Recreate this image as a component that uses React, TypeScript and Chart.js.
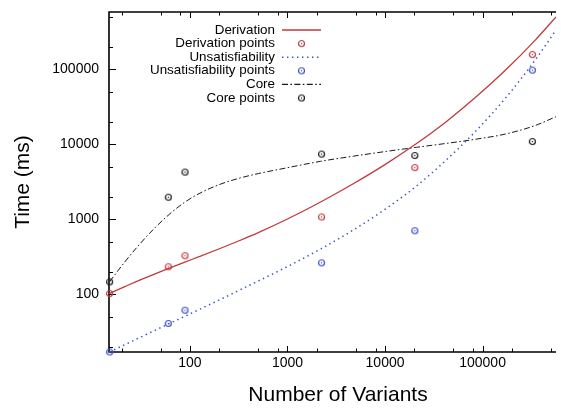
import React, { useEffect, useRef } from 'react';
import { Chart, registerables } from 'chart.js';

Chart.register(...registerables);

// ---- data ----
const variants = [15, 60, 89, 2235, 20200, 324000];
const derivationPoints = [102, 232, 326, 1073, 4900, 158000];
const unsatPoints = [16.9, 40.6, 61, 262, 703, 97900];
const corePoints = [146, 1970, 4260, 7410, 7100, 10900];

// fitted curves
const fitX = [15, 21.5, 30.5, 43.3, 61.5, 87.3, 124, 197.5, 315, 502, 1012, 2187, 4725, 10450, 21050, 42400, 85440, 172100, 346700, 566000];
const derivationFit = [102.7, 126.2, 153.6, 185.4, 222.2, 265.6, 316.5, 401, 512.7, 663.7, 1015, 1700, 2975, 5570, 10240, 20080, 42780, 98080, 246600, 501700];
const unsatFit = [16.9, 21.2, 26.3, 32.6, 40.5, 50.2, 62.2, 83.1, 111.6, 149.9, 235.6, 401, 719, 1414, 2781, 6184, 15090, 41600, 133800, 336500];
const coreFit = [146.7, 269.7, 464.7, 757.6, 1165, 1669, 2201, 2886, 3513, 4072, 4895, 5943, 6950, 8079, 9140, 10300, 11720, 13750, 17860, 23410];

const xTickValues = [20, 50, 80, 100, 200, 500, 800, 1000, 2000, 5000, 8000, 10000, 20000, 50000, 80000, 100000, 200000, 500000];
const yTickValues = [20, 50, 100, 200, 500, 1000, 2000, 5000, 10000, 20000, 50000, 100000, 200000, 500000];
const majorTicks = [100, 1000, 10000, 100000];

const legendLabels = ['Derivation', 'Derivation points', 'Unsatisfiability', 'Unsatisfiability points', 'Core', 'Core points'];
const xTitle = 'Number of Variants';
const yTitle = 'Time (ms)';

const RED = '#c03a3c';
const BLUE = '#3b4fc4';
const BLACK = '#1a1a1a';
const FONT = '"Liberation Sans", Arial, Helvetica, sans-serif';
const DOT_DASH = [1.4, 3.6];
const CORE_DASH = [6, 2.4, 1.6, 2.4];

function makeMarker(color: string): HTMLCanvasElement {
  const c = document.createElement('canvas');
  c.width = 9;
  c.height = 9;
  const g = c.getContext('2d')!;
  g.strokeStyle = color;
  g.lineWidth = 1.2;
  g.beginPath();
  g.arc(4.5, 4.5, 3, 0, Math.PI * 2);
  g.stroke();
  g.fillStyle = color;
  g.beginPath();
  g.arc(4.5, 4.5, 0.7, 0, Math.PI * 2);
  g.fill();
  return c;
}

const pts = (xs: number[], ys: number[]) => xs.map((x, i) => ({ x, y: ys[i] }));

export default function App() {
  const ref = useRef<HTMLCanvasElement>(null);

  useEffect(() => {
    if (!ref.current) return;
    const redM = makeMarker(RED);
    const blueM = makeMarker(BLUE);
    const blackM = makeMarker(BLACK);

    const framePlugin = {
      id: 'frame',
      beforeDatasetsDraw(chart: any) {
        const { ctx, chartArea: a, scales } = chart;
        const xs = scales.x;
        const ys = scales.y;
        ctx.save();
        ctx.strokeStyle = '#000';
        ctx.lineWidth = 1.6;
        ctx.beginPath();
        ctx.moveTo(a.right, a.top);
        ctx.lineTo(a.left, a.top);
        ctx.lineTo(a.left, a.bottom);
        ctx.lineTo(a.right, a.bottom);
        ctx.stroke();
        ctx.lineWidth = 1;
        ctx.beginPath();
        for (const v of xTickValues) {
          const px = Math.round(xs.getPixelForValue(v)) + 0.5;
          const len = majorTicks.includes(v) ? 6 : 3.5;
          ctx.moveTo(px, a.bottom);
          ctx.lineTo(px, a.bottom - len);
          ctx.moveTo(px, a.top);
          ctx.lineTo(px, a.top + len);
        }
        for (const v of yTickValues) {
          const py = Math.round(ys.getPixelForValue(v)) + 0.5;
          const len = majorTicks.includes(v) ? 7 : 4;
          ctx.moveTo(a.left, py);
          ctx.lineTo(a.left + len, py);
        }
        ctx.stroke();
        // x axis title
        ctx.font = `21px ${FONT}`;
        ctx.fillStyle = '#000';
        ctx.textAlign = 'center';
        ctx.textBaseline = 'middle';
        ctx.fillText(xTitle, 338, 395);
        ctx.restore();
      },
      afterDatasetsDraw(chart: any) {
        const { ctx } = chart;
        const textRight = 275;
        const lineL = 282;
        const lineR = 321;
        const markX = 301.5;
        const y0 = 30;
        const dy = 13.6;
        const styles = [
          { t: 'line', c: RED, d: [] as number[], w: 1.4 },
          { t: 'mark', m: redM },
          { t: 'line', c: BLUE, d: DOT_DASH, w: 1.5 },
          { t: 'mark', m: blueM },
          { t: 'line', c: BLACK, d: CORE_DASH, w: 1.1 },
          { t: 'mark', m: blackM },
        ];
        ctx.save();
        ctx.font = `13.4px ${FONT}`;
        ctx.fillStyle = '#000';
        ctx.textAlign = 'right';
        ctx.textBaseline = 'middle';
        legendLabels.forEach((lab, i) => {
          const y = y0 + i * dy;
          ctx.fillText(lab, textRight, y);
          const s: any = styles[i];
          if (s.t === 'line') {
            ctx.strokeStyle = s.c;
            ctx.lineWidth = s.w;
            ctx.setLineDash(s.d);
            ctx.beginPath();
            ctx.moveTo(lineL, y);
            ctx.lineTo(lineR, y);
            ctx.stroke();
            ctx.setLineDash([]);
          } else {
            ctx.drawImage(s.m, markX - 4.5, y - 4.5);
          }
        });
        ctx.restore();
      },
    };

    const chart = new Chart(ref.current, {
      type: 'scatter',
      data: {
        datasets: [
          {
            label: legendLabels[0],
            data: pts(fitX, derivationFit),
            showLine: true,
            borderColor: RED,
            borderWidth: 1.3,
            pointRadius: 0,
            cubicInterpolationMode: 'monotone',
          },
          {
            label: legendLabels[2],
            data: pts(fitX, unsatFit),
            showLine: true,
            borderColor: BLUE,
            borderWidth: 1.5,
            borderDash: DOT_DASH,
            pointRadius: 0,
            cubicInterpolationMode: 'monotone',
          },
          {
            label: legendLabels[4],
            data: pts(fitX, coreFit),
            showLine: true,
            borderColor: BLACK,
            borderWidth: 1,
            borderDash: CORE_DASH,
            pointRadius: 0,
            cubicInterpolationMode: 'monotone',
          },
          {
            label: legendLabels[1],
            data: pts(variants, derivationPoints),
            showLine: false,
            pointStyle: redM,
            pointRadius: 4,
            clip: false,
          },
          {
            label: legendLabels[3],
            data: pts(variants, unsatPoints),
            showLine: false,
            pointStyle: blueM,
            pointRadius: 4,
            clip: false,
          },
          {
            label: legendLabels[5],
            data: pts(variants, corePoints),
            showLine: false,
            pointStyle: blackM,
            pointRadius: 4,
            clip: false,
          },
        ] as any,
      },
      options: {
        responsive: false,
        animation: false,
        events: [],
        layout: { padding: { top: 12, right: 0, bottom: 0, left: 0 } },
        plugins: { legend: { display: false }, tooltip: { enabled: false } },
        scales: {
          x: {
            type: 'logarithmic',
            min: 14.8,
            max: 566000,
            grid: { display: false, drawTicks: false },
            border: { display: false },
            afterBuildTicks(scale: any) {
              scale.ticks = xTickValues.map((v) => ({ value: v, major: majorTicks.includes(v) }));
            },
            afterFit(scale: any) {
              scale.height = 56;
              scale.paddingLeft = 0;
              scale.paddingRight = 0;
            },
            ticks: {
              autoSkip: false,
              maxRotation: 0,
              padding: 3,
              color: '#000',
              font: { family: FONT, size: 14 },
              callback: (v: any) => (majorTicks.includes(Number(v)) ? String(v) : ''),
            },
            title: { display: false },
          },
          y: {
            type: 'logarithmic',
            min: 16.9,
            max: 585000,
            grid: { display: false, drawTicks: false },
            border: { display: false },
            afterBuildTicks(scale: any) {
              scale.ticks = yTickValues.map((v) => ({ value: v, major: majorTicks.includes(v) }));
            },
            afterFit(scale: any) {
              scale.width = 109;
              scale.paddingTop = 0;
              scale.paddingBottom = 0;
            },
            ticks: {
              autoSkip: false,
              padding: 10,
              color: '#000',
              font: { family: FONT, size: 14 },
              callback: (v: any) => (majorTicks.includes(Number(v)) ? String(v) : ''),
            },
            title: {
              display: true,
              text: yTitle,
              color: '#000',
              font: { family: FONT, size: 21 },
              padding: { top: 10.7, bottom: 0 },
            },
          },
        },
      } as any,
      plugins: [framePlugin],
    });
    return () => chart.destroy();
  }, []);

  return (
    <div style={{ position: 'fixed', left: 0, top: 0, width: 561, height: 408, background: '#fff' }}>
      <canvas ref={ref} width={561} height={408} style={{ width: 561, height: 408, display: 'block' }} />
    </div>
  );
}
